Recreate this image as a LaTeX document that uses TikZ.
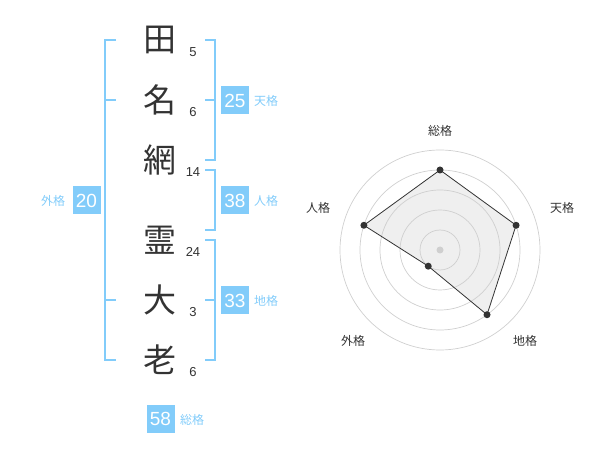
\documentclass[tikz,border=0pt]{standalone}
\usepackage{fontspec}
\setmainfont{Liberation Sans}
\newfontfamily\jpfont{Noto Sans CJK JP}
\definecolor{kakublue}{HTML}{82CCFA}
\definecolor{inkgray}{HTML}{333333}
\definecolor{ringgray}{HTML}{CFCFCF}
\definecolor{areagray}{HTML}{EFEFEF}
\begin{document}
\begin{tikzpicture}[
		x=1pt, y=-1pt,
		every node/.style={inner sep=0pt},
		kanji/.style={font=\jpfont\fontsize{33}{33}\selectfont, text=inkgray},
		stroke/.style={font=\fontsize{13}{13}\selectfont, text=inkgray},
		scorebox/.style={fill=kakublue, minimum size=28pt, text=white, font=\fontsize{19}{19}\selectfont},
		kaku/.style={font=\jpfont\fontsize{12}{12}\selectfont, text=kakublue},
		bracket/.style={draw=kakublue, line width=2pt},
		ring/.style={draw=ringgray, line width=0.7pt},
		axis/.style={font=\jpfont\fontsize{12}{12}\selectfont, text=inkgray},
		vertex/.style={circle, fill=inkgray, minimum size=7pt}
	]
  \useasboundingbox (0,0) rectangle (600,470);
  % name
  \node (ta) [kanji] at (160,40) {田};
  \node (na) [kanji] at (160,100) {名};
  \node (mo) [kanji] at (160,160) {網};
  \node (rei) [kanji] at (160,240) {霊};
  \node (dai) [kanji] at (160,300) {大};
  \node (rou) [kanji] at (160,360) {老};
  \node (s_ta) [stroke] at (193,52) {5};
  \node (s_na) [stroke] at (193,112) {6};
  \node (s_mo) [stroke] at (193,172) {14};
  \node (s_rei) [stroke] at (193,252) {24};
  \node (s_dai) [stroke] at (193,312) {3};
  \node (s_rou) [stroke] at (193,372) {6};
  % brackets
  \draw [bracket] (116,40) -- (105,40) -- (105,360) -- (116,360);
  \draw [bracket] (105,100) -- (116,100);
  \draw [bracket] (105,300) -- (116,300);
  \draw [bracket] (205,40) -- (215,40) -- (215,160) -- (205,160);
  \draw [bracket] (205,100) -- (215,100);
  \draw [bracket] (205,170) -- (215,170) -- (215,230) -- (205,230);
  \draw [bracket] (205,240) -- (215,240) -- (215,360) -- (205,360);
  \draw [bracket] (205,300) -- (215,300);
  % scores
  \node (gai) [scorebox] at (86.5,200.5) {20};
  \node (ten) [scorebox] at (235,100.5) {25};
  \node (jin) [scorebox] at (235,200.5) {38};
  \node (chi) [scorebox] at (235,300.5) {33};
  \node (sou) [scorebox] at (160.5,419) {58};
  \node (gai_l) [kaku] at (53,201) {外格};
  \node (ten_l) [kaku] at (266,101) {天格};
  \node (jin_l) [kaku] at (266,201) {人格};
  \node (chi_l) [kaku] at (266,301) {地格};
  \node (sou_l) [kaku] at (192,420) {総格};
  % chart
  \begin{scope}[shift={(440,250)}, y=1pt]
    \coordinate (c) at (0,0);
    \coordinate (p_sou) at (90:80);
    \coordinate (p_ten) at (18:80);
    \coordinate (p_chi) at (-54:80);
    \coordinate (p_gai) at (-126:20);
    \coordinate (p_jin) at (162:80);
    \fill [areagray] (p_sou) -- (p_ten) -- (p_chi) -- (p_gai) -- (p_jin) -- cycle;
    \foreach \r in {20,40,...,100}
      \draw [ring] (c) circle (\r);
    \node (hub) [circle, fill=ringgray, minimum size=7pt] at (c) {};
    \draw [inkgray, line width=0.8pt] (p_sou) -- (p_ten) -- (p_chi) -- (p_gai) -- (p_jin) -- cycle;
    \foreach \p in {sou,ten,chi,gai,jin}
      \node [vertex] at (p_\p) {};
    \node (a_sou) [axis] at (0,119) {総格};
    \node (a_ten) [axis] at (122,42) {天格};
    \node (a_chi) [axis] at (85,-91) {地格};
    \node (a_gai) [axis] at (-87,-91) {外格};
    \node (a_jin) [axis] at (-122,42) {人格};
  \end{scope}
\end{tikzpicture}
\end{document}
